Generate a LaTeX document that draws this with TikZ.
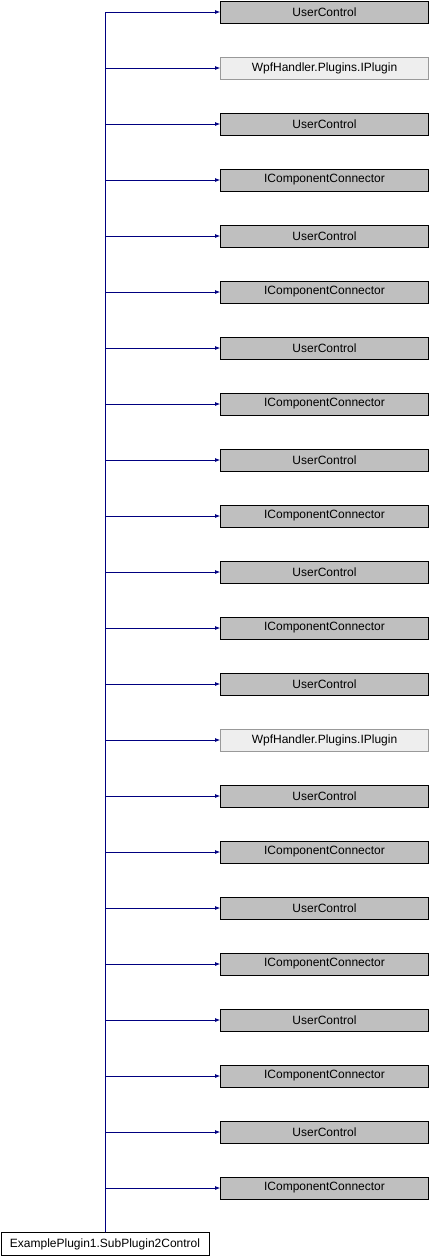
\documentclass[tikz,border=0pt]{standalone}
\usepackage{fontspec}
\setmainfont{Liberation Sans}
\usetikzlibrary{positioning,arrows.meta}
\definecolor{edgeblue}{HTML}{000080}
\definecolor{nodegray}{HTML}{BFBFBF}
\definecolor{extgray}{HTML}{EEEEEE}
\definecolor{extline}{HTML}{999999}

\begin{document}
\begin{tikzpicture}[x=1pt, y=-1pt, font=\fontsize{12}{14}\selectfont,
                    box/.style={draw=black, line width=0.8pt, minimum width=208pt, minimum height=22pt, inner sep=0pt},
                    cls/.style={box, fill=nodegray},
                    ext/.style={box, draw=extline, fill=extgray},
                    inh/.style={draw=edgeblue, line width=0.8pt, -{Latex[length=5pt,width=4pt]}}]
  \useasboundingbox (0,0) rectangle (430,1256);
  \node[box, fill=white, minimum width=208pt, minimum height=23pt] (sub) at (105,1244) {ExamplePlugin1.SubPlugin2Control};
  % base classes and interfaces
  \foreach \k/\txt/\sty in {0/UserControl/cls, 1/WpfHandler.Plugins.IPlugin/ext, 2/UserControl/cls, 3/IComponentConnector/cls,
                            4/UserControl/cls, 5/IComponentConnector/cls, 6/UserControl/cls, 7/IComponentConnector/cls,
                            8/UserControl/cls, 9/IComponentConnector/cls, 10/UserControl/cls, 11/IComponentConnector/cls,
                            12/UserControl/cls, 13/WpfHandler.Plugins.IPlugin/ext, 14/UserControl/cls, 15/IComponentConnector/cls,
                            16/UserControl/cls, 17/IComponentConnector/cls, 18/UserControl/cls, 19/IComponentConnector/cls,
                            20/UserControl/cls, 21/IComponentConnector/cls} {
    \node[\sty] (base\k) at (324.5,12+56*\k) {\txt};
    \draw[inh] (sub.north) |- (base\k.west);
  }
\end{tikzpicture}
\end{document}
